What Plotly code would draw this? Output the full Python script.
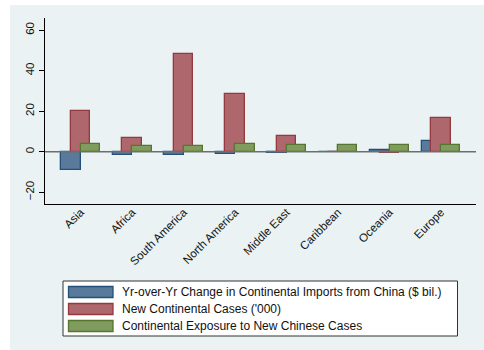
import plotly.graph_objects as go

# Continents and the three series shown for each
regions = ["Asia", "Africa", "South America", "North America",
           "Middle East", "Caribbean", "Oceania", "Europe"]
imports_change = [-9.2, -1.5, -1.5, -1.0, -0.5, -0.3, 0.8, 5.3]
new_cases = [20.0, 6.6, 48.2, 28.3, 7.8, -0.2, -0.4, 16.6]
exposure = [3.6, 2.8, 2.8, 3.8, 3.1, 3.1, 3.1, 3.1]

series_names = [
    "Yr-over-Yr Change in Continental Imports from China ($ bil.)",
    "New Continental Cases ('000)",
    "Continental Exposure to New Chinese Cases",
]
y_ticks = [-20, 0, 20, 40, 60]

fills = ["#5a7a9b", "#ae676c", "#7f9b5e"]
edges = ["#23507a", "#93393f", "#56762f"]
BG = "#eaf2f3"
FONT = "Liberation Sans, Arial, sans-serif"

W, H = 484, 350
ML, MR, MT, MB = 45, 8, 18, 146
PW, PH = W - ML - MR, H - MT - MB

xpos = list(range(len(regions)))
bw = 0.377
offsets = [-bw, -bw / 2, 0.0]

fig = go.Figure()
for vals, name, fc, lc, off in zip([imports_change, new_cases, exposure],
                                   series_names, fills, edges, offsets):
    fig.add_trace(go.Bar(
        x=xpos, y=vals, name=name, width=bw, offset=off,
        marker=dict(color=fc, line=dict(color=lc, width=1.3)),
        showlegend=False,
    ))


def px_x(p):
    return (p - ML) / PW


def px_y(p):
    return (H - MB - p) / PH


shapes = [
    # outer panel background
    dict(type="rect", xref="paper", yref="paper", layer="below",
         x0=px_x(10), x1=px_x(W + 2), y0=px_y(5), y1=px_y(H + 2),
         fillcolor=BG, line=dict(width=0)),
    # zero reference line
    dict(type="line", xref="paper", yref="y", x0=0, x1=1, y0=0, y1=0,
         line=dict(color="#6e6e6e", width=1.5), layer="above"),
    # legend frame
    dict(type="rect", xref="paper", yref="paper",
         x0=px_x(63), x1=px_x(457.5), y0=px_y(281), y1=px_y(336),
         fillcolor="white", line=dict(color="#333333", width=1)),
]

annotations = []
row_y = [292, 309, 326]
for name, fc, lc, ry in zip(series_names, fills, edges, row_y):
    shapes.append(dict(type="rect", xref="paper", yref="paper",
                       x0=px_x(68.5), x1=px_x(113), y0=px_y(ry - 5.5), y1=px_y(ry + 5.5),
                       fillcolor=fc, line=dict(color=lc, width=1.3)))
    annotations.append(dict(xref="paper", yref="paper", x=px_x(120), y=px_y(ry),
                            text=name, showarrow=False, xanchor="left", yanchor="middle",
                            font=dict(size=12, color="#111111", family=FONT)))

fig.update_layout(
    width=W, height=H,
    margin=dict(l=ML, r=MR, t=MT, b=MB),
    paper_bgcolor="white", plot_bgcolor="white",
    barmode="overlay", bargap=0,
    font=dict(family=FONT, size=11, color="#111111"),
    shapes=shapes, annotations=annotations,
    showlegend=False,
    xaxis=dict(
        tickmode="array", tickvals=xpos, ticktext=regions,
        range=[-0.693, 7.68], tickangle=-45, ticks="", ticklen=0,
        ticklabelstandoff=-4,
        showline=True, linecolor="black", linewidth=1.2, mirror=False,
        showgrid=False, zeroline=False, fixedrange=True,
        tickfont=dict(size=11.5, color="#111111"),
    ),
    yaxis=dict(
        tickmode="array", tickvals=y_ticks, range=[-25.8, 66],
        ticks="outside", ticklen=5, tickcolor="black", tickangle=-90,
        showline=True, linecolor="black", linewidth=1.2,
        showgrid=True, gridcolor=BG, gridwidth=1, zeroline=False,
        tickfont=dict(size=11.5, color="#111111"),
    ),
)

fig.write_html("out.html")
